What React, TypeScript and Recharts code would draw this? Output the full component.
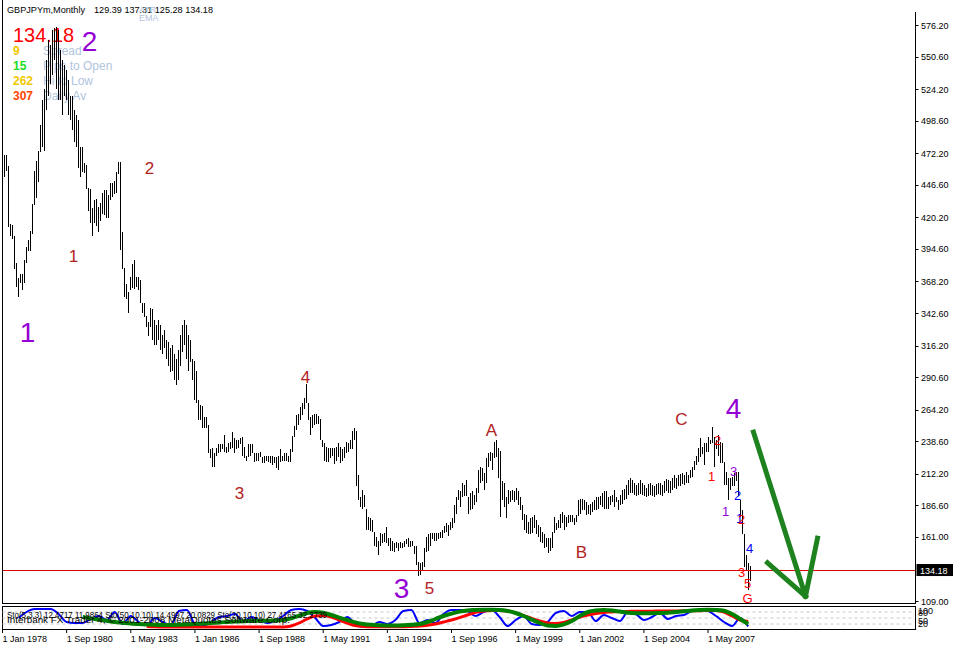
import React from 'react';
import { ComposedChart, Bar, XAxis, YAxis, ReferenceLine, ReferenceDot, LineChart, Line } from 'recharts';

const SYMBOL = 'GBPJPYm,Monthly';
const LAST_OHLC = '129.39 137.31 125.28 134.18';
const LAST_CLOSE = 134.18;

const HIGH = [
  471,471,462,415,414,405,383,371,374,374,386,396,
  402,409,431,458,466,474,495,515,524,548,564,560,
  572,574,575,572,556,548,544,540,532,519,519,507,
  503,499,477,477,464,463,444,443,428,434,435,429,
  432,440,442,442,438,448,448,450,457,465,465,408,
  379,366,360,372,382,386,372,372,369,351,351,340,
  335,347,346,337,333,337,333,325,329,321,319,314,
  317,309,305,313,325,333,337,333,325,321,305,304,
  296,272,268,267,258,258,252,232,233,229,233,236,
  236,236,244,234,237,238,246,241,240,240,241,242,
  234,227,236,236,236,229,229,229,230,226,227,227,
  227,227,227,226,226,227,232,227,229,229,227,232,
  243,251,260,261,266,270,274,285,270,258,260,261,
  261,259,257,240,237,234,233,233,233,233,234,237,
  234,232,234,238,237,240,247,249,247,211,193,199,
  195,184,177,176,175,165,161,158,164,163,164,169,
  160,160,158,156,157,156,157,156,158,159,160,158,
  158,154,154,141,140,141,152,161,163,164,164,164,
  164,164,165,167,170,172,171,173,176,187,193,199,
  198,205,203,207,193,197,198,195,201,215,218,217,
  213,225,229,230,229,238,240,233,231,206,205,193,
  199,198,199,198,201,198,193,187,180,179,173,176,
  177,179,175,171,169,165,163,160,160,160,165,177,
  172,175,180,181,179,177,179,179,179,176,179,191,
  192,192,191,189,187,188,189,191,193,193,194,197,
  198,198,193,194,195,199,193,191,195,199,200,203,
  207,209,207,205,203,205,207,205,203,201,204,205,
  203,202,204,205,205,203,206,208,207,206,209,211,
  209,211,212,213,211,214,211,215,218,223,227,233,
  241,234,237,237,242,240,250,242,240,244,238,237,
  222,214,209,209,210,213,214,214,191,183,163,146,
  140,137.31,
];

const LOW = [
  453,458,412,405,403,378,364,356,367,361,367,383,
  393,393,407,430,436,449,473,477,474,507,519,528,
  536,548,524,515,515,503,519,515,503,499,491,481,
  477,460,453,457,456,443,425,416,405,416,413,408,
  417,423,422,420,420,434,437,439,440,455,394,378,
  356,354,343,361,363,362,364,361,351,343,339,331,
  324,331,321,317,317,321,313,309,314,305,300,295,
  296,288,284,288,300,311,317,305,296,303,288,272,
  270,256,256,249,249,249,229,225,218,218,227,229,
  230,232,230,229,230,232,233,229,232,233,236,227,
  225,223,226,227,229,222,223,223,226,221,221,223,
  222,221,219,221,217,215,222,223,223,223,222,222,
  230,242,248,252,256,260,265,270,256,244,249,252,
  253,253,240,234,223,222,222,225,227,220,223,226,
  221,223,225,229,230,232,232,240,202,191,185,184,
  185,167,167,166,165,154,153,146,154,156,157,156,
  154,150,150,149,152,150,152,152,153,155,153,153,
  154,147,138,129,130,133,137,149,150,154,159,158,
  158,159,160,160,164,165,162,167,168,172,180,191,
  185,193,194,194,180,183,184,187,189,197,205,206,
  199,205,218,223,215,225,226,209,177,191,185,176,
  188,189,191,189,191,187,183,175,167,164,163,163,
  164,168,163,161,157,156,152,153,148,150,152,164,
  167,168,168,172,167,169,172,173,173,171,173,178,
  180,183,183,179,180,179,181,183,183,184,187,185,
  184,184,184,187,189,185,189,183,187,188,191,192,
  195,197,197,195,194,195,196,195,194,193,194,195,
  194,193,195,196,195,194,197,198,197,197,199,201,
  200,202,202,204,203,205,205,209,210,215,219,222,
  226,228,219,230,230,236,237,218,232,227,221,221,
  203,203,191,199,202,202,206,194,177,163,137,134,
  118,125.28,
];

// stochastic readings, one every STO_STEP months
const STO_STEP = 4;
const STO_FAST = [
  null,null,50,80,95,95,95,70,30,25,25,45,60,40,80,20,60,30,15,50,30,15,85,90,20,10,30,55,60,70,
  30,55,40,25,35,60,90,95,85,50,10,15,30,55,20,5,10,30,20,40,85,90,25,40,25,70,90,90,85,60,
  80,90,55,10,40,60,20,15,30,75,85,60,80,80,35,65,50,35,80,70,40,55,75,45,60,65,85,90,85,60,
  30,10,50,8,
];
const STO_SLOW = [
  null,null,null,null,null,null,null,null,null,null,55,48,42,36,30,26,22,20,18,16,15,15,16,18,20,22,25,28,30,32,
  34,35,36,36,37,40,48,62,75,80,76,65,52,40,28,20,16,14,13,13,14,16,20,30,45,60,72,82,88,90,
  91,91,90,85,75,60,42,25,12,10,18,35,60,80,88,90,88,82,76,74,74,74,75,76,80,84,88,90,91,90,
  86,70,45,20,
];
const STO_MID = [
  null,null,null,null,null,null,null,null,null,null,null,null,null,null,null,null,null,null,8,6,5,5,5,5,5,5,5,5,5,5,
  5,5,5,5,5,5,10,25,45,60,62,55,40,25,12,8,6,6,6,6,6,8,10,14,20,30,40,52,65,78,
  85,88,88,85,75,62,48,35,25,22,28,40,55,65,72,78,80,82,83,84,84,84,85,85,85,86,86,86,88,88,
  80,60,40,32,
];

const PRICE_TICKS = [576.2, 550.6, 524.2, 498.6, 472.2, 446.6, 420.2, 394.6, 368.2, 342.6, 316.2, 290.6, 264.2, 238.6, 212.2, 186.6, 161.0, 109.0];
const DATE_TICK_IDX = [0, 32, 64, 96, 128, 160, 192, 224, 256, 288, 320, 352];
const DATE_TICK_LABELS = ['1 Jan 1978', '1 Sep 1980', '1 May 1983', '1 Jan 1986', '1 Sep 1988', '1 May 1991', '1 Jan 1994', '1 Sep 1996', '1 May 1999', '1 Jan 2002', '1 Sep 2004', '1 May 2007'];

const PURPLE = '#9400D3';
const DARKRED = '#B22222';
const RED = '#FF0000';
const BLUE = '#0000FF';

const WAVE_LABELS = [
  { t: '1', i: 12, p: 327, c: PURPLE, s: 28 },
  { t: '2', i: 43, p: 563, c: PURPLE, s: 28 },
  { t: '3', i: 199, p: 120, c: PURPLE, s: 28 },
  { t: '4', i: 365, p: 266, c: PURPLE, s: 28 },
  { t: '1', i: 35, p: 389, c: DARKRED, s: 17 },
  { t: '2', i: 73, p: 460, c: DARKRED, s: 17 },
  { t: '3', i: 118, p: 197, c: DARKRED, s: 17 },
  { t: '4', i: 151, p: 291, c: DARKRED, s: 17 },
  { t: '5', i: 213, p: 120, c: DARKRED, s: 17 },
  { t: 'A', i: 244, p: 248, c: DARKRED, s: 17 },
  { t: 'B', i: 289, p: 149, c: DARKRED, s: 17 },
  { t: 'C', i: 339, p: 257, c: DARKRED, s: 17 },
  { t: '2', i: 357, p: 239, c: RED, s: 13 },
  { t: '1', i: 354, p: 210, c: RED, s: 13 },
  { t: '3', i: 365, p: 214, c: PURPLE, s: 13 },
  { t: '2', i: 367, p: 195, c: BLUE, s: 13 },
  { t: '1', i: 361, p: 182, c: PURPLE, s: 13 },
  { t: '1', i: 368, p: 176, c: BLUE, s: 13 },
  { t: '2', i: 369, p: 175, c: RED, s: 13 },
  { t: '4', i: 373, p: 152, c: BLUE, s: 13 },
  { t: '3', i: 369, p: 132, c: RED, s: 13 },
  { t: '5', i: 372, p: 123, c: RED, s: 13 },
  { t: 'G', i: 372, p: 111, c: RED, s: 13 },
];

// forecast arrow drawn on the chart (bar index, price)
const ARROW_SEGMENTS = [
  [{ i: 375, p: 246 }, { i: 401, p: 113 }],
  [{ i: 382, p: 140 }, { i: 401, p: 113 }],
  [{ i: 401, p: 113 }, { i: 407, p: 160 }],
];

const SLOTS = 456;
const FONT = '"Liberation Sans", Arial, sans-serif';

const rows = Array.from({ length: SLOTS }, (_, i) => {
  const has = i < HIGH.length;
  const k = i / STO_STEP;
  const onStep = Number.isInteger(k) && k < STO_FAST.length;
  return {
    i,
    range: has ? [LOW[i], HIGH[i]] : null,
    fast: onStep ? STO_FAST[k] : null,
    slow: onStep ? STO_SLOW[k] : null,
    mid: onStep ? STO_MID[k] : null,
  };
});

const YTick = (props: any) => {
  const { y, payload } = props;
  return (
    <g>
      <line x1={915.5} x2={918.5} y1={Math.round(y) + 0.5} y2={Math.round(y) + 0.5} stroke="#000" />
      <text x={921} y={y + 3.5} fontSize={9} fontFamily={FONT} fill="#000">{Number(payload.value).toFixed(2)}</text>
    </g>
  );
};

const XTick = (props: any) => {
  const { x, payload } = props;
  const idx = DATE_TICK_IDX.indexOf(payload.value);
  return (
    <g>
      <line x1={x} x2={x} y1={629} y2={633} stroke="#000" />
      <text x={x} y={642} fontSize={9} fontFamily={FONT} fill="#000">{DATE_TICK_LABELS[idx]}</text>
    </g>
  );
};

const PriceTag = (props: any) => {
  const vb = props.viewBox || {};
  const y = vb.y;
  return (
    <g>
      <rect x={916.5} y={y - 6} width={37} height={12} fill="#000" />
      <text x={920} y={y + 3.5} fontSize={9} fontFamily={FONT} fill="#fff">{LAST_CLOSE.toFixed(2)}</text>
    </g>
  );
};

const makeLabelShape = (t: string, c: string, s: number) => (props: any) => (
  <text x={props.cx} y={props.cy} dy="0.36em" textAnchor="middle" fontSize={s} fontFamily={FONT} fill={c}>{t}</text>
);

export default function App() {
  return (
    <div style={{ position: 'fixed', left: 0, top: 0, width: 953, height: 646, background: '#fff', overflow: 'hidden' }}>
      <svg width={953} height={646} style={{ position: 'absolute', left: 0, top: 0 }}>
        <g stroke="#000" strokeWidth={1} shapeRendering="crispEdges">
          <line x1={2.5} y1={0} x2={2.5} y2={603.5} />
          <line x1={915.5} y1={12} x2={915.5} y2={603.5} />
          <line x1={2.5} y1={603.5} x2={915.5} y2={603.5} />
          <rect x={2.5} y={606.5} width={913} height={23} fill="none" />
        </g>
        <text x={7} y={13} fontSize={9.5} fontFamily={FONT} textLength={78} lengthAdjust="spacingAndGlyphs">{SYMBOL}</text>
        <text x={94} y={13} fontSize={9.5} fontFamily={FONT} textLength={119} lengthAdjust="spacingAndGlyphs">{LAST_OHLC}</text>
        <text x={139} y={13} fontSize={9} fontFamily={FONT} fill="#B0C4DE">ATR</text>
        <text x={139} y={21} fontSize={9} fontFamily={FONT} fill="#B0C4DE">EMA</text>
        <text x={13} y={42} fontSize={20} fontFamily={FONT} fill="#FF0000">{LAST_CLOSE.toFixed(2)}</text>
        <g fontSize={12} fontFamily={FONT}>
          <text x={13} y={54.5} fill="#F0C800" fontWeight="bold">9</text>
          <text x={43} y={54.5} fill="#B0C4DE">Spread</text>
          <text x={13} y={69.5} fill="#22DD22" fontWeight="bold">15</text>
          <text x={43} y={69.5} fill="#B0C4DE">Pips to Open</text>
          <text x={13} y={84.5} fill="#F0C800" fontWeight="bold">262</text>
          <text x={43} y={84.5} fill="#B0C4DE">Hi to Low</text>
          <text x={13} y={99.5} fill="#FF4500" fontWeight="bold">307</text>
          <text x={43} y={99.5} fill="#B0C4DE">Daily Av</text>
        </g>
        <text x={918} y={614} fontSize={9} fontFamily={FONT}>100</text>
        <text x={918} y={616} fontSize={9} fontFamily={FONT}>80</text>
        <text x={918} y={624} fontSize={9} fontFamily={FONT}>50</text>
        <text x={918} y={627} fontSize={9} fontFamily={FONT}>20</text>
      </svg>

      <div style={{ position: 'absolute', left: 0, top: 0 }}>
        <ComposedChart width={953} height={646} data={rows} margin={{ top: 0, right: 0, left: 2.5, bottom: 40 }}>
          <XAxis dataKey="i" type="category" hide />
          <YAxis orientation="right" width={38.5} domain={[105, 596.5]} allowDataOverflow ticks={PRICE_TICKS} interval={0} tick={<YTick />} tickLine={false} axisLine={false} />
          <ReferenceLine y={LAST_CLOSE} stroke="#E00000" strokeWidth={1} shapeRendering="crispEdges" label={<PriceTag />} />
          <Bar dataKey="range" fill="#000" barSize={1} isAnimationActive={false} shapeRendering="crispEdges" />
          {ARROW_SEGMENTS.map((seg, k) => (
            <ReferenceLine key={'a' + k} segment={[{ x: seg[0].i, y: seg[0].p }, { x: seg[1].i, y: seg[1].p }]} stroke="#1E821E" strokeWidth={5} strokeLinecap="square" ifOverflow="visible" />
          ))}
          {WAVE_LABELS.map((l, k) => (
            <ReferenceDot key={'w' + k} x={l.i} y={l.p} r={0} ifOverflow="visible" shape={makeLabelShape(l.t, l.c, l.s)} />
          ))}
        </ComposedChart>
      </div>

      <div style={{ position: 'absolute', left: 0, top: 0 }}>
        <LineChart width={953} height={646} data={rows} margin={{ top: 607, right: 38.5, left: 2.5, bottom: 0 }}>
          <XAxis dataKey="i" type="category" height={17} ticks={DATE_TICK_IDX} interval={0} tick={<XTick />} tickLine={false} axisLine={false} />
          <YAxis hide domain={[-5, 105]} allowDataOverflow />
          <ReferenceLine y={80} stroke="#C8C8C8" strokeDasharray="3 3" />
          <ReferenceLine y={50} stroke="#C8C8C8" strokeDasharray="3 3" />
          <ReferenceLine y={20} stroke="#C8C8C8" strokeDasharray="3 3" />
          <Line dataKey="fast" type="monotone" stroke="#0000FF" strokeWidth={2} dot={false} connectNulls isAnimationActive={false} />
          <Line dataKey="mid" type="monotone" stroke="#FF0000" strokeWidth={3} dot={false} connectNulls isAnimationActive={false} />
          <Line dataKey="slow" type="monotone" stroke="#008000" strokeWidth={4} dot={false} connectNulls isAnimationActive={false} />
        </LineChart>
        <svg width={953} height={646} style={{ position: 'absolute', left: 0, top: 0, pointerEvents: 'none' }}>
          <text x={7} y={618} fontSize={9} fontFamily={FONT} textLength={320} lengthAdjust="spacingAndGlyphs">Sto(5,3,3) 12.4717 11.9864 Sto(50,10,10) 14.4997 20.0829 Sto(20,10,10) 27.4165 32.2739</text>
          <text x={7} y={623} fontSize={9} fontFamily={FONT} textLength={283} lengthAdjust="spacingAndGlyphs">Interbank FX Trader 4, © 2001-2008 MetaQuotes Software Corp.</text>
        </svg>
      </div>
    </div>
  );
}
